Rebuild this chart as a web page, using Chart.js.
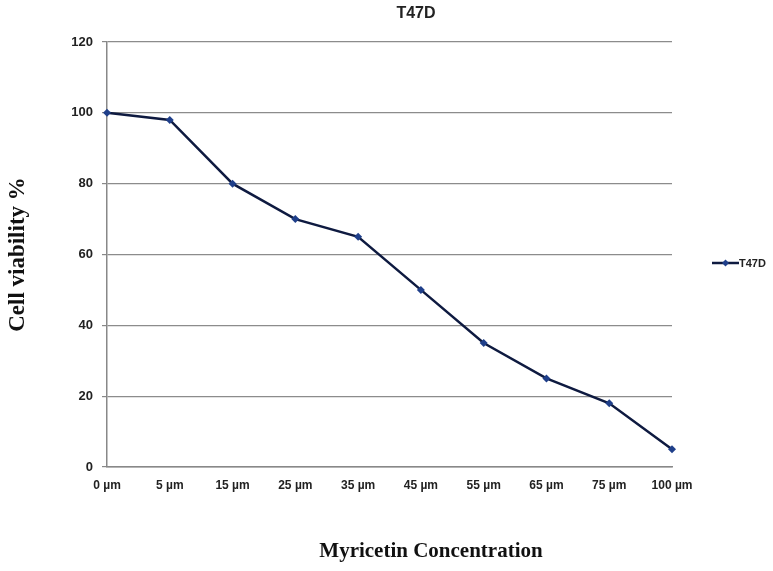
<!DOCTYPE html>
<html>
<head>
<meta charset="utf-8">
<script src="https://cdn.jsdelivr.net/npm/chart.js@4.4.1/dist/chart.umd.min.js"></script>
<style>
html,body{margin:0;padding:0;background:#fff;}
#wrap{width:773px;height:571px;position:relative;}
</style>
</head>
<body>
<div id="wrap"><canvas id="c" width="773" height="571"></canvas></div>
<script>
const chartTitle = "T47D";
const categories = ["0 µm","5 µm","15 µm","25 µm","35 µm","45 µm","55 µm","65 µm","75 µm","100 µm"];
const seriesName = "T47D";
const viability = [100, 98, 80, 70, 65, 50, 35, 25, 18, 5];
const yTicks = [0, 20, 40, 60, 80, 100, 120];
const xTitle = "Myricetin Concentration";
const yTitle = "Cell viability %";

const lineColor = "#0e1a40";
const markerColor = "#1f3f8a";

const textPlugin = {
  id: "extraText",
  afterDraw(chart) {
    const ctx = chart.ctx;
    ctx.save();
    // chart title
    ctx.fillStyle = "#222";
    ctx.font = "bold 16px 'Liberation Sans', Arial, sans-serif";
    ctx.textAlign = "center";
    ctx.textBaseline = "middle";
    ctx.fillText(chartTitle, 416, 14);
    // x axis title
    ctx.fillStyle = "#111";
    ctx.font = "bold 21px 'Liberation Serif', 'Times New Roman', serif";
    ctx.fillText(xTitle, 431, 552);
    // legend
    const y = 263;
    ctx.strokeStyle = lineColor;
    ctx.lineWidth = 2.5;
    ctx.beginPath();
    ctx.moveTo(712, y);
    ctx.lineTo(739, y);
    ctx.stroke();
    ctx.fillStyle = markerColor;
    ctx.beginPath();
    ctx.moveTo(725.5, y - 3.5);
    ctx.lineTo(729, y);
    ctx.lineTo(725.5, y + 3.5);
    ctx.lineTo(722, y);
    ctx.closePath();
    ctx.fill();
    ctx.fillStyle = "#222";
    ctx.font = "bold 11px 'Liberation Sans', Arial, sans-serif";
    ctx.textBaseline = "middle";
    ctx.textAlign = "left";
    ctx.fillText(chart.data.datasets[0].label, 739, y + 0.5);
    ctx.restore();
  }
};

new Chart(document.getElementById("c"), {
  type: "line",
  data: {
    labels: categories,
    datasets: [{
      label: seriesName,
      data: viability,
      borderColor: lineColor,
      backgroundColor: markerColor,
      borderWidth: 2.5,
      pointStyle: "rectRot",
      pointRadius: 4,
      pointBackgroundColor: markerColor,
      pointBorderColor: markerColor,
      pointBorderWidth: 0,
      tension: 0,
      fill: false
    }]
  },
  options: {
    responsive: false,
    animation: false,
    devicePixelRatio: 1,
    layout: { padding: { left: 0, top: 42, right: 101, bottom: 0 } },
    plugins: {
      legend: { display: false },
      tooltip: { enabled: false },
      title: { display: false }
    },
    scales: {
      x: {
        type: "category",
        offset: false,
        grid: { display: false, drawOnChartArea: false, drawTicks: true, tickLength: 5, tickColor: "#888", offset: false },
        border: { display: true, color: "#888", width: 1.5 },
        ticks: {
          color: "#222",
          padding: 6,
          maxRotation: 0,
          autoSkip: false,
          font: { family: "'Liberation Sans', Arial, sans-serif", size: 12, weight: "bold" }
        },
        title: { display: false },
        afterFit(scale) { scale.height = 104; }
      },
      y: {
        min: 0,
        max: 120,
        afterBuildTicks(scale) { scale.ticks = yTicks.map(v => ({ value: v })); },
        grid: { color: "#8c8c8c", lineWidth: 1.2, drawTicks: true, tickLength: 5, tickColor: "#888" },
        border: { display: true, color: "#888", width: 1.5 },
        ticks: {
          color: "#222",
          padding: 9,
          font: { family: "'Liberation Sans', Arial, sans-serif", size: 13, weight: "bold" }
        },
        title: {
          display: true,
          text: yTitle,
          color: "#111",
          font: { family: "'Liberation Serif', 'Times New Roman', serif", size: 23, weight: "bold", lineHeight: 1.2 },
          padding: { top: 4, bottom: 4 }
        },
        afterFit(scale) { scale.width = 107; }
      }
    }
  },
  plugins: [textPlugin]
});
</script>
</body>
</html>
